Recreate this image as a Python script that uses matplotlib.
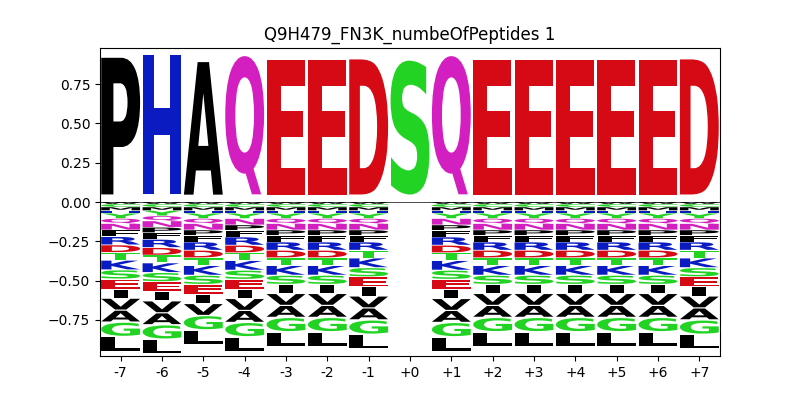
import matplotlib
matplotlib.use('Agg')
import matplotlib.pyplot as plt
from matplotlib.textpath import TextPath
from matplotlib.font_manager import FontProperties
from matplotlib.patches import PathPatch
from matplotlib.transforms import Affine2D

# positions around the site and the residue seen at each one
positions = list(range(-7, 8))
position_labels = ['-7', '-6', '-5', '-4', '-3', '-2', '-1', '+0',
                   '+1', '+2', '+3', '+4', '+5', '+6', '+7']
observed = ['P', 'H', 'A', 'Q', 'E', 'E', 'D', 'S',
            'Q', 'E', 'E', 'E', 'E', 'E', 'D']
top_values = [0.966, 0.983, 0.937, 0.977, 0.952, 0.952, 0.955, 0.947,
              0.977, 0.952, 0.952, 0.952, 0.952, 0.952, 0.955]
show_below = [1, 1, 1, 1, 1, 1, 1, 0, 1, 1, 1, 1, 1, 1, 1]

# background letters, stacked from zero downwards
stack_letters = ['W', 'C', 'M', 'H', 'Y', 'Q', 'N', 'P', 'F', 'R',
                 'D', 'T', 'K', 'S', 'E', 'I', 'V', 'A', 'G', 'L']
background = [0.012, 0.020, 0.022, 0.017, 0.034, 0.032, 0.041, 0.034, 0.042, 0.053,
              0.048, 0.049, 0.062, 0.058, 0.064, 0.058, 0.076, 0.076, 0.092, 0.095]

# chemistry colour scheme
green = '#22d324'
purple = '#d31fc0'
blue = '#0b1bc2'
red = '#d50a15'
colors = {}
for c in 'GSTYC':
    colors[c] = green
for c in 'NQ':
    colors[c] = purple
for c in 'KRH':
    colors[c] = blue
for c in 'DE':
    colors[c] = red
for c in 'AVLIPWFM':
    colors[c] = 'black'

font = FontProperties(family='DejaVu Sans', weight='bold')
ref_bbox = TextPath((0, 0), 'E', size=1, prop=font).get_extents()


def draw_glyph(ax, c, x, floor, ceiling, width=0.94, vpad=0.1):
    path = TextPath((0, 0), c, size=1, prop=font)
    bb = path.get_extents()
    hstretch = min(width / bb.width, width / ref_bbox.width)
    h = ceiling - floor
    vstretch = (1 - vpad) * h / bb.height
    tr = (Affine2D().translate(-bb.xmin, -bb.ymin)
          .scale(hstretch, vstretch)
          .translate(x - hstretch * bb.width / 2, floor + vpad * h / 2))
    ax.add_patch(PathPatch(tr.transform_path(path), facecolor=colors[c],
                           edgecolor='none'))


fig, ax = plt.subplots(figsize=(8, 4), dpi=100)

for pos, obs, top, below in zip(positions, observed, top_values, show_below):
    draw_glyph(ax, obs, pos, 0, top)
    if not below:
        continue
    y = 0
    for c, b in zip(stack_letters, background):
        if c == obs:
            continue
        draw_glyph(ax, c, pos, y - b, y)
        y -= b

ax.axhline(0, color='black', linewidth=0.5)
ax.set_xlim(-7.5, 7.5)
ax.set_ylim(-0.98, 0.98)
ax.set_xticks(positions)
ax.set_xticklabels(position_labels)
ax.set_title('Q9H479_FN3K_numbeOfPeptides 1')

plt.savefig('out.png', dpi=100)
